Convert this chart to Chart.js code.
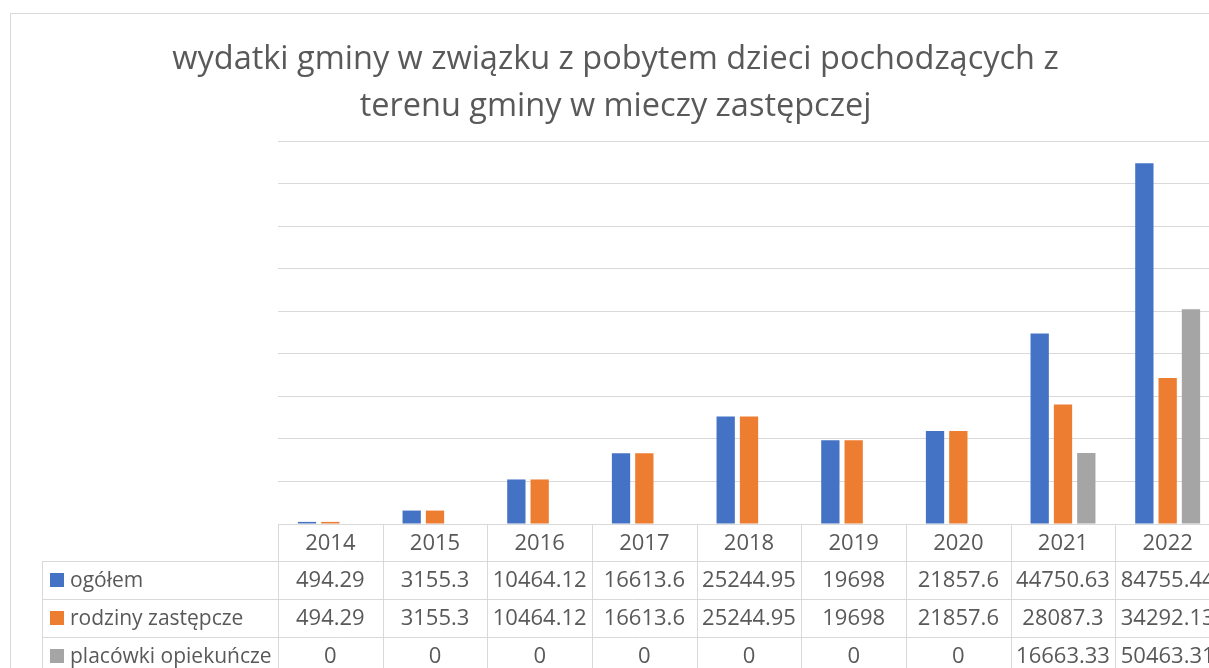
<!DOCTYPE html>
<html>
<head>
<meta charset="utf-8">
<script src="https://cdn.jsdelivr.net/npm/chart.js@4.4.0/dist/chart.umd.min.js"></script>
<style>
    html, body { margin: 0; padding: 0; background: #fff; overflow: hidden; }
    #box {
        position: absolute; left: 10px; top: 13px;
        width: 1212px; height: 700px;
        border: 1px solid #d9d9d9;
    }
</style>
</head>
<body>
<div id="box"><canvas id="wydatkiChart" width="1212" height="700"></canvas></div>
<script>
(function() {

    // dane z wykresu
    var years = ["2014", "2015", "2016", "2017", "2018", "2019", "2020", "2021", "2022"];
    var ogolem = [494.29, 3155.3, 10464.12, 16613.6, 25244.95, 19698, 21857.6, 44750.63, 84755.44];
    var rodziny = [494.29, 3155.3, 10464.12, 16613.6, 25244.95, 19698, 21857.6, 28087.3, 34292.13];
    var placowki = [0, 0, 0, 0, 0, 0, 0, 16663.33, 50463.31];
    var seriesNames = ["ogółem", "rodziny zastępcze", "placówki opiekuńcze"];
    var seriesColors = ["#4472C4", "#ED7D31", "#A5A5A5"];
    var titleLines = ["wydatki gminy w związku z pobytem dzieci pochodzących z", "terenu gminy w mieczy zastępczej"];

    var textColor = "#595959";
    var lineColor = "#d9d9d9";
    var fontFamily = "'Open Sans', sans-serif";

    // tabela danych pod osia X (jak w Excelu)
    var dataTable = {
        id: 'dataTable',
        afterDraw: function(chart) {
            var ctx = chart.ctx;
            var x = chart.scales.x;
            var top = chart.chartArea.bottom;
            var colW = (x.right - x.left) / years.length;
            var headH = 37, rowH = 38;
            var labelLeft = 31;
            var right = chart.width;
            var bottom = top + headH + rowH * 3 + 40;
            var allData = [ogolem, rodziny, placowki];

            function px(v) { return Math.round(v) + 0.5; }
            function line(x1, y1, x2, y2) {
                ctx.beginPath();
                ctx.moveTo(x1, y1);
                ctx.lineTo(x2, y2);
                ctx.stroke();
            }

            ctx.save();
            ctx.strokeStyle = lineColor;
            ctx.lineWidth = 1;
            line(x.left, px(top), right, px(top));
            for (var r = 0; r < 4; r++) {
                var yy = px(top + headH + r * rowH);
                line(labelLeft, yy, right, yy);
            }
            for (var i = 0; i <= years.length; i++) {
                var xx = px(x.left + i * colW);
                line(xx, top, xx, bottom);
            }
            line(px(labelLeft), top + headH, px(labelLeft), bottom);

            ctx.fillStyle = textColor;
            ctx.font = "22px " + fontFamily;
            ctx.textAlign = "center";
            ctx.textBaseline = "middle";
            for (var j = 0; j < years.length; j++) {
                var cx = x.getPixelForValue(j);
                ctx.fillText(years[j], cx, top + headH / 2 + 1);
                for (var s = 0; s < allData.length; s++) {
                    ctx.fillText(String(allData[s][j]), cx, top + headH + rowH * s + rowH / 2 + 1);
                }
            }

            ctx.font = "21px " + fontFamily;
            ctx.textAlign = "left";
            for (var k = 0; k < seriesNames.length; k++) {
                var cy = top + headH + rowH * k + rowH / 2;
                ctx.fillStyle = seriesColors[k];
                ctx.fillRect(39, Math.round(cy) - 7, 14, 14);
                ctx.fillStyle = textColor;
                ctx.fillText(seriesNames[k], 59, cy + 1);
            }
            ctx.restore();
        }
    };

    var datasets = [ogolem, rodziny, placowki].map(function(d, i) {
        return {
            label: seriesNames[i],
            data: d,
            backgroundColor: seriesColors[i],
            borderWidth: 0,
            categoryPercentage: 0.668,
            barPercentage: 0.785
        };
    });

    var myChart = new Chart(document.getElementById('wydatkiChart'), {
        type: 'bar',
        data: {
            labels: years,
            datasets: datasets
        },
        options: {
            responsive: false,
            animation: false,
            layout: {
                padding: { left: 0, right: 3, top: 0, bottom: 190 }
            },
            plugins: {
                legend: { display: false },
                tooltip: { enabled: false },
                title: {
                    display: true,
                    text: titleLines,
                    color: textColor,
                    font: { family: fontFamily, size: 32.5, weight: 'normal', lineHeight: 47 / 32.5 },
                    padding: { top: 22, bottom: 11 }
                }
            },
            scales: {
                x: {
                    display: false
                },
                y: {
                    min: 0,
                    max: 90000,
                    ticks: { display: false, stepSize: 10000 },
                    grid: { color: lineColor, drawTicks: false },
                    border: { display: false },
                    // miejsce na kolumne z nazwami serii w tabeli
                    afterFit: function(scale) { scale.width = 267; }
                }
            }
        },
        plugins: [dataTable]
    });

})();
</script>
</body>
</html>
